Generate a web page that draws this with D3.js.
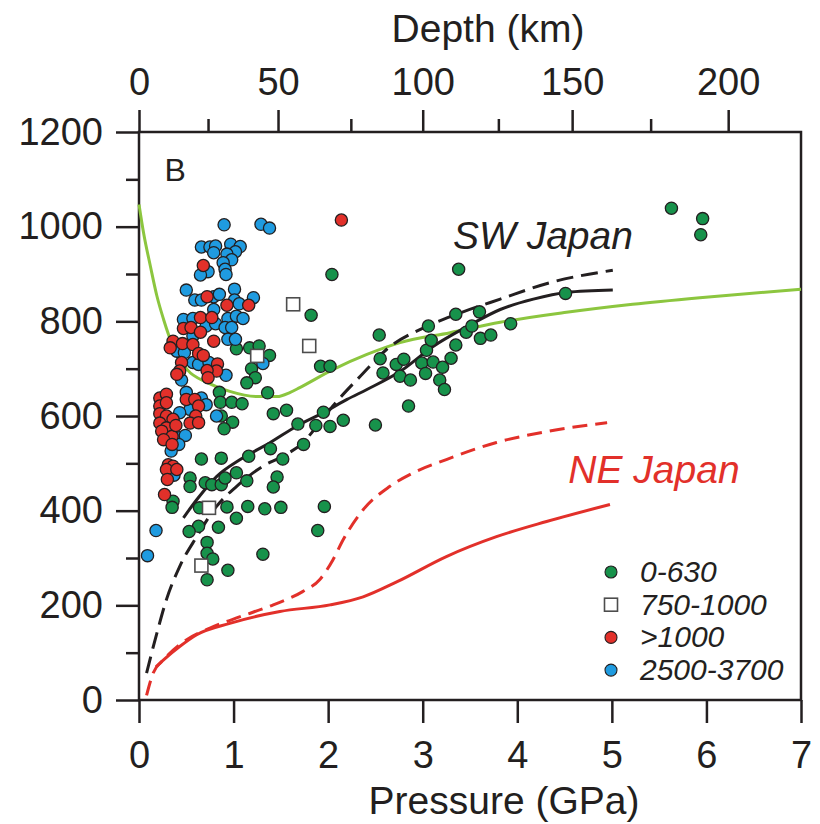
<!doctype html>
<html>
<head>
  <title>Pressure - Temperature</title>
  <script src="https://d3js.org/d3.v7.min.js"></script>
  <style>
    body { margin:0; background:#fff; }
    text { font-family: "Liberation Sans", Arial, sans-serif; fill:#231f20; }
  </style>
</head>
<body>
  <script>
    // samples: [pressure GPa, value]
    var green0to630 = [
      [1.03,742],[1.17,744],[1.27,748],[1.38,728],[1.19,700],[1.23,681],[1.14,670],[1.36,649],
      [0.85,650],[0.86,629],[0.98,629],[1.09,626],[0.87,600],[0.99,587],[0.90,573],[1.42,605],[1.56,612],
      [0.66,509],[0.87,511],[0.54,469],[0.70,459],[0.77,455],[0.87,455],[0.91,469],[1.03,480],[1.16,515],
      [1.39,531],[1.46,471],[1.42,450],[1.52,509],[0.54,451],[0.36,420],[0.35,407],
      [1.95,608],[1.68,583],[1.87,580],[1.74,540],[1.14,463],
      [0.64,406],[0.93,408],[1.15,409],[1.33,404],[1.50,407],[1.96,409],
      [1.03,384],[0.84,365],[0.63,367],[0.53,356],[0.72,333],[0.72,310],[0.78,298],[1.31,308],[1.89,358],
      [0.94,274],[0.72,254],
      [2.85,621],[2.50,581],[2.02,578],[2.16,591],
      [2.04,899],[3.38,910],[5.63,1039],[5.96,1017],[5.94,983],[4.51,859],[1.82,813],[1.92,705],[2.02,705],
      [2.54,771],[2.55,721],[2.58,691],[2.72,709],[2.80,720],[2.76,684],[2.87,676],[2.99,712],[3.03,690],
      [3.11,714],[3.21,703],[3.18,676],[3.23,656],[3.04,739],[3.09,760],[3.06,790],[3.30,722],[3.35,750],
      [3.46,777],[3.52,790],[3.35,815],[3.60,820],[3.61,764],[3.72,771],[3.93,795]
    ];
    var white750to1000 = [[0.66,284],[0.74,406],[1.25,727],[1.63,836],[1.80,748]];
    var blue2500to3700 = [
      [0.90,1004],[1.29,1005],[1.38,997],[0.66,957],[0.75,957],[0.81,959],[0.79,945],[0.97,963],[1.07,958],
      [1.02,947],[0.93,942],[0.98,930],[0.89,924],[0.91,910],[0.92,899],[0.73,905],[0.65,898],
      [0.50,866],[0.59,845],[0.66,845],[0.79,852],[0.85,857],[1.01,868],[1.01,845],[1.06,837],[1.21,850],[0.79,825],
      [0.47,804],[0.57,806],[0.94,806],[1.03,811],[1.10,806],[0.71,790],[0.81,795],[0.91,787],[0.98,787],
      [0.57,769],[0.40,737],[0.48,734],[0.94,762],[1.02,762],
      [0.57,713],[0.63,709],[0.74,713],[0.92,686],[0.45,676],[0.50,650],[0.66,638],[0.71,624],[0.54,614],
      [0.43,607],[0.82,600],[0.43,554],[0.49,559],[0.42,540],[0.34,526],[0.37,475],[1.31,711],[0.18,358],[0.09,305]
    ];
    var redOver1000 = [
      [0.68,918],[0.72,852],[0.93,834],[1.16,834],[0.65,808],[0.77,808],[0.47,785],[0.55,787],[0.65,777],
      [0.36,758],[0.33,744],[0.46,753],[0.57,751],[0.63,732],[0.68,728],[0.79,758],[0.45,713],[0.43,695],
      [0.40,688],[0.83,710],[0.82,695],[0.72,696],[0.73,681],
      [0.22,638],[0.29,646],[0.22,621],[0.29,628],[0.50,635],[0.59,635],[0.63,621],[0.22,605],[0.29,600],
      [0.36,593],[0.60,600],[0.54,585],[0.63,586],[0.22,585],[0.29,575],[0.24,568],[0.35,557],[0.26,550],
      [0.39,580],[0.35,540],[0.31,497],[0.36,494],[0.29,487],[0.40,487],[0.30,466],[0.27,434],[2.14,1014]
    ];

    // curves
    var greenCurve = [[0.0,1047],[0.05,985],[0.12,917],[0.19,853],[0.26,804],[0.36,747],[0.51,698],[0.72,671],
      [0.96,652],[1.25,641],[1.46,641],[1.60,650],[1.70,660],[2.05,698],[2.41,730],[2.76,755],[3.29,776],
      [3.82,798],[4.52,819],[5.22,836],[5.93,850],[7.0,868]];
    var swSolid = [[0.47,385],[0.61,423],[0.82,472],[1.07,508],[1.38,543],[1.68,580],[1.95,607],[2.20,635],
      [2.41,656],[2.76,694],[3.11,747],[3.47,789],[3.82,825],[4.17,847],[4.52,861],[5.01,866]];
    var swDashed = [[0.08,57],[0.19,142],[0.29,212],[0.43,282],[0.61,345],[0.82,409],[1.03,451],[1.31,494],
      [1.52,515],[1.73,543],[1.88,578],[2.05,621],[2.34,684],[2.62,741],[3.04,789],[3.36,815],[3.82,847],
      [4.35,882],[5.01,908]];
    var neSolid = [[0.18,70],[0.26,85],[0.43,113],[0.61,138],[0.96,162],[1.49,187],[2.02,201],[2.37,218],
      [2.73,250],[3.25,303],[3.78,345],[4.31,377],[4.98,413]];
    var neDashed = [[0.08,10],[0.15,57],[0.26,85],[0.50,127],[0.75,152],[1.07,176],[1.42,201],[1.73,229],
      [1.91,254],[2.05,296],[2.16,339],[2.37,402],[2.65,451],[2.90,480],[3.25,508],[3.78,544],[4.31,567],[4.95,586]];

    // axis ticks
    var pressureTicks = [0,1,2,3,4,5,6,7];
    var valueTicks = [0,200,400,600,800,1000,1200];
    var valueMinor = [100,300,500,700,900,1100];
    var depthTicks = [0,25,50,75,100,125,150,175,200];
    var depthAsGPa = [0,0.73,1.47,2.24,3.00,3.80,4.58,5.41,6.23];

    var legendLabels = ["0-630","750-1000",">1000","2500-3700"];
    var legendColors = ["#17924b","#ffffff","#e2302a","#1f9be0"];

    var width = 820, height = 824;
    var plotLeft = 139, plotRight = 801, plotTop = 132, plotBottom = 700;
    var ink = "#231f20";

    var svg = d3.select("body").append("svg")
      .attr("width", width)
      .attr("height", height);

    var x = d3.scaleLinear().domain([0,7]).range([plotLeft,plotRight]);
    var y = d3.scaleLinear().domain([0,1200]).range([plotBottom,plotTop]);
    var depth = d3.scaleLinear().domain(depthTicks).range(depthAsGPa.map(function(d){ return x(d); }));

    function styleAxis(g, size){
      g.select(".domain").remove();
      g.selectAll("line").attr("stroke", ink).attr("stroke-width", 2.5);
      g.selectAll("text").attr("font-size", size).attr("fill", ink)
        .attr("font-family", '"Liberation Sans", Arial, sans-serif');
    }

    var fmt = d3.format("d");

    // bottom axis
    svg.append("g").attr("transform","translate(0,"+plotBottom+")")
      .call(d3.axisBottom(x).tickValues(pressureTicks).tickFormat(fmt).tickSize(23).tickPadding(18))
      .call(styleAxis, 38);

    // left axis
    svg.append("g").attr("transform","translate("+plotLeft+",0)")
      .call(d3.axisLeft(y).tickValues(valueTicks).tickFormat(fmt).tickSize(23).tickPadding(13))
      .call(styleAxis, 38);
    svg.append("g").attr("transform","translate("+plotLeft+",0)")
      .call(d3.axisLeft(y).tickValues(valueMinor).tickSize(13).tickFormat(""))
      .call(styleAxis, 38);

    // top axis, depth
    svg.append("g").attr("transform","translate(0,"+plotTop+")")
      .call(d3.axisTop(depth).tickValues(depthTicks.filter(function(d){ return d % 50 === 0; }))
        .tickFormat(fmt).tickSize(22).tickPadding(15))
      .call(styleAxis, 38);
    svg.append("g").attr("transform","translate(0,"+plotTop+")")
      .call(d3.axisTop(depth).tickValues(depthTicks.filter(function(d){ return d % 50 !== 0; }))
        .tickSize(13).tickFormat(""))
      .call(styleAxis, 38);

    // frame
    svg.append("rect")
      .attr("x", plotLeft).attr("y", plotTop)
      .attr("width", plotRight-plotLeft).attr("height", plotBottom-plotTop)
      .attr("fill","none").attr("stroke", ink).attr("stroke-width", 2.5);

    // axis titles
    svg.append("text").attr("x", 488).attr("y", 42)
      .attr("text-anchor","middle").attr("font-size", 39).text("Depth (km)");
    svg.append("text").attr("x", 504).attr("y", 814)
      .attr("text-anchor","middle").attr("font-size", 39).text("Pressure (GPa)");

    var line = d3.line()
      .x(function(d){ return x(d[0]); })
      .y(function(d){ return y(d[1]); })
      .curve(d3.curveMonotoneX);

    var plot = svg.append("g");

    function drawCurve(data, color, dash){
      plot.append("path")
        .attr("d", line(data))
        .attr("fill","none")
        .attr("stroke", color)
        .attr("stroke-width", 3)
        .attr("stroke-dasharray", dash || null);
    }

    drawCurve(greenCurve, "#8cc63f");
    drawCurve(neDashed, "#e2302a", "15,8");
    drawCurve(neSolid, "#e2302a");
    drawCurve(swDashed, ink, "17,8");
    drawCurve(swSolid, ink);

    function drawDots(data, color){
      plot.append("g").selectAll("circle")
        .data(data)
        .enter()
        .append("circle")
        .attr("cx", function(d){ return x(d[0]); })
        .attr("cy", function(d){ return y(d[1]); })
        .attr("r", 6.1)
        .attr("fill", color)
        .attr("stroke", ink)
        .attr("stroke-width", 1.3);
    }

    drawDots(green0to630, legendColors[0]);
    drawDots(blue2500to3700, legendColors[3]);
    drawDots(redOver1000, legendColors[2]);

    plot.append("g").selectAll("rect")
      .data(white750to1000)
      .enter()
      .append("rect")
      .attr("x", function(d){ return x(d[0]) - 6.5; })
      .attr("y", function(d){ return y(d[1]) - 6.5; })
      .attr("width", 13).attr("height", 13)
      .attr("fill", "#fff")
      .attr("stroke", "#4d4d4d")
      .attr("stroke-width", 1.6);

    // labels
    svg.append("text").attr("x", x(0.27)).attr("y", y(1096))
      .attr("font-size", 32).text("B");
    svg.append("text").attr("x", x(3.32)).attr("y", y(952))
      .attr("font-size", 39).attr("font-style","italic").text("SW Japan");
    svg.append("text").attr("x", x(4.54)).attr("y", y(459))
      .attr("font-size", 39).attr("font-style","italic")
      .style("fill","#e2302a").text("NE Japan");

    // legend
    var legend = svg.append("g").attr("transform","translate(611,572)");
    var rows = legend.selectAll("g")
      .data(legendLabels)
      .enter()
      .append("g")
      .attr("transform", function(d,i){ return "translate(0,"+ (i*32.7) +")"; });
    rows.each(function(d,i){
      var g = d3.select(this);
      if (i === 1) {
        g.append("rect").attr("x",-6.5).attr("y",-6.5).attr("width",13).attr("height",13)
          .attr("fill","#fff").attr("stroke","#4d4d4d").attr("stroke-width",1.6);
      } else {
        g.append("circle").attr("r",6).attr("fill",legendColors[i])
          .attr("stroke", ink).attr("stroke-width",1.1);
      }
    });
    rows.append("text")
      .attr("x", 29).attr("y", 10)
      .attr("font-size", 30).attr("font-style","italic")
      .text(function(d){ return d; });
  </script>
</body>
</html>
